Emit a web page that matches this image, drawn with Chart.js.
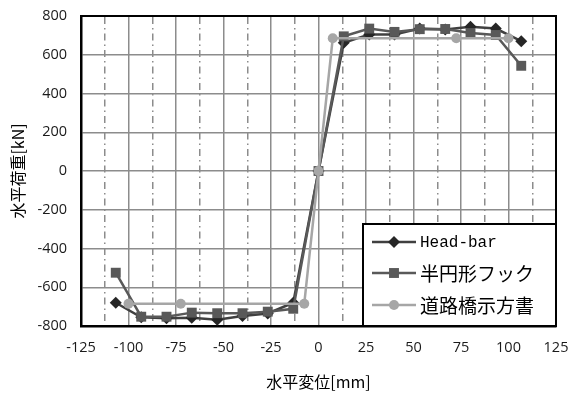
<!DOCTYPE html>
<html><head><meta charset="utf-8">
<script src="https://cdn.jsdelivr.net/npm/chart.js@4/dist/chart.umd.min.js"></script>
<style>html,body{margin:0;padding:0;background:#fff}#wrap{width:570px;height:394px}</style>
</head><body><div id="wrap"><canvas id="c" width="570" height="394"></canvas></div>
<script>
// ---- data ----
const seriesNames = ['Head-bar', '半円形フック', '道路橋示方書'];
const headBarX = [-106.7, -93.3, -80, -66.7, -53.3, -40, -26.7, -13.3, 0, 13.3, 26.7, 40, 53.3, 66.7, 80, 93.3, 106.7];
const headBarY = [-680, -755, -760, -758, -768, -748, -735, -680, 0, 662, 705, 705, 735, 730, 745, 735, 670];
const hookX = [-106.7, -93.3, -80, -66.7, -53.3, -40, -26.7, -13.3, 0, 13.3, 26.7, 40, 53.3, 66.7, 80, 93.3, 106.7];
const hookY = [-525, -752, -752, -731, -734, -734, -726, -711, 0, 695, 735, 718, 732, 733, 712, 702, 543];
const roadX = [-100, -72.5, -7.5, 0, 7.5, 72.5, 100];
const roadY = [-685, -685, -685, 0, 685, 685, 685];
const xTickValues = [-125, -100, -75, -50, -25, 0, 25, 50, 75, 100, 125];
const xMinorTickValues = [-112.5, -87.5, -62.5, -37.5, -12.5, 12.5, 37.5, 62.5, 87.5, 112.5];
const yTickValues = [-800, -600, -400, -200, 0, 200, 400, 600, 800];
const xTitle = '水平変位[mm]';
const yTitle = '水平荷重[kN]';

const pts = (xs, ys) => xs.map((x, i) => ({x: x, y: ys[i]}));

const tickFont = {family: "'Open Sans', 'Noto Sans CJK JP', sans-serif", size: 14.5};
const titleFont = {family: "'Noto Sans CJK JP', sans-serif", size: 16};

function zeroPad(s) { s.paddingTop = 0; s.paddingBottom = 0; s.paddingLeft = 0; s.paddingRight = 0; }

function drawMarker(ctx, style, x, y, r, color) {
  ctx.save();
  ctx.fillStyle = color;
  ctx.beginPath();
  if (style === 'rectRot') {
    ctx.moveTo(x, y - r); ctx.lineTo(x + r, y); ctx.lineTo(x, y + r); ctx.lineTo(x - r, y); ctx.closePath();
  } else if (style === 'rect') {
    const s = Math.SQRT1_2 * r;
    ctx.rect(x - s, y - s, 2 * s, 2 * s);
  } else {
    ctx.arc(x, y, r, 0, Math.PI * 2);
  }
  ctx.fill();
  ctx.restore();
}

const boxLegend = {
  id: 'boxLegend',
  afterDatasetsDraw(chart) {
    const ctx = chart.ctx, a = chart.chartArea;
    const w = 193, h = 102;
    const x0 = a.right - w, y0 = a.bottom - h;
    ctx.save();
    ctx.fillStyle = '#fff';
    ctx.fillRect(x0, y0, w, h);
    ctx.lineWidth = 2;
    ctx.strokeStyle = '#000';
    ctx.strokeRect(x0, y0, w, h);
    const rowsY = [y0 + 18, y0 + 49, y0 + 81];
    chart.data.datasets.forEach((ds, i) => {
      const cy = rowsY[i];
      ctx.strokeStyle = ds.borderColor;
      ctx.lineWidth = ds.borderWidth;
      ctx.beginPath();
      ctx.moveTo(x0 + 9, cy); ctx.lineTo(x0 + 53, cy); ctx.stroke();
      drawMarker(ctx, ds.pointStyle, x0 + 31, cy, ds.pointRadius, ds.pointBackgroundColor);
      const ascii = /^[\x00-\x7f]*$/.test(ds.label);
      ctx.font = ascii ? "16px 'Liberation Mono', monospace" : "19px 'Noto Sans CJK JP', sans-serif";
      ctx.fillStyle = '#000';
      ctx.textBaseline = 'middle';
      ctx.textAlign = 'left';
      ctx.fillText(ds.label, x0 + 57, cy + 1);
    });
    ctx.restore();
  }
};

new Chart(document.getElementById('c'), {
  type: 'scatter',
  data: {
    datasets: [
      {label: seriesNames[0], data: pts(headBarX, headBarY), showLine: true,
       borderColor: '#404040', borderWidth: 2.5, pointStyle: 'rectRot', pointRadius: 6,
       pointBackgroundColor: '#262626', pointBorderWidth: 0, order: 3},
      {label: seriesNames[1], data: pts(hookX, hookY), showLine: true,
       borderColor: '#595959', borderWidth: 2.5, pointStyle: 'rect', pointRadius: 7,
       pointBackgroundColor: '#595959', pointBorderWidth: 0, order: 2},
      {label: seriesNames[2], data: pts(roadX, roadY), showLine: true,
       borderColor: '#a6a6a6', borderWidth: 2.5, pointStyle: 'circle', pointRadius: 5,
       pointBackgroundColor: '#a6a6a6', pointBorderWidth: 0, order: 1}
    ]
  },
  options: {
    responsive: false,
    animation: false,
    devicePixelRatio: 1,
    layout: {padding: {top: 16, right: 14, left: 0, bottom: 0}},
    plugins: {legend: {display: false}, tooltip: {enabled: false}},
    scales: {
      x: {
        type: 'linear', position: 'bottom', min: -125, max: 125,
        afterBuildTicks: s => { s.ticks = xTickValues.map(v => ({value: v})); },
        afterFit: s => { s.height = 68; zeroPad(s); },
        ticks: {font: tickFont, color: '#1a1a1a', padding: 13, autoSkip: false, maxRotation: 0},
        grid: {color: '#8c8c8c', lineWidth: 1.5, drawTicks: false},
        border: {color: '#000', width: 2.5},
        title: {display: true, text: xTitle, font: titleFont, color: '#000', padding: {top: 0, bottom: 2}}
      },
      x2: {
        type: 'linear', position: 'top', min: -125, max: 125,
        afterBuildTicks: s => { s.ticks = xMinorTickValues.map(v => ({value: v})); },
        afterFit: s => { s.height = 0; zeroPad(s); },
        ticks: {display: false},
        grid: {color: '#8c8c8c', lineWidth: 1.5, drawTicks: false},
        border: {color: '#000', width: 2, dash: [7, 4, 1.5, 4]}
      },
      y: {
        type: 'linear', position: 'left', min: -800, max: 800,
        afterBuildTicks: s => { s.ticks = yTickValues.map(v => ({value: v})); },
        afterFit: s => { s.width = 81; zeroPad(s); },
        ticks: {font: tickFont, color: '#1a1a1a', padding: 14, autoSkip: false},
        grid: {color: '#8c8c8c', lineWidth: 1.5, drawTicks: false},
        border: {color: '#000', width: 2.5},
        title: {display: true, text: yTitle, font: titleFont, color: '#000', padding: {top: 8, bottom: 0}}
      },
      y2: {
        type: 'linear', position: 'right', min: -800, max: 800,
        afterFit: s => { s.width = 0; zeroPad(s); },
        ticks: {display: false},
        grid: {drawOnChartArea: false, drawTicks: false},
        border: {color: '#000', width: 2}
      }
    }
  },
  plugins: [boxLegend]
});
</script>
</body></html>
